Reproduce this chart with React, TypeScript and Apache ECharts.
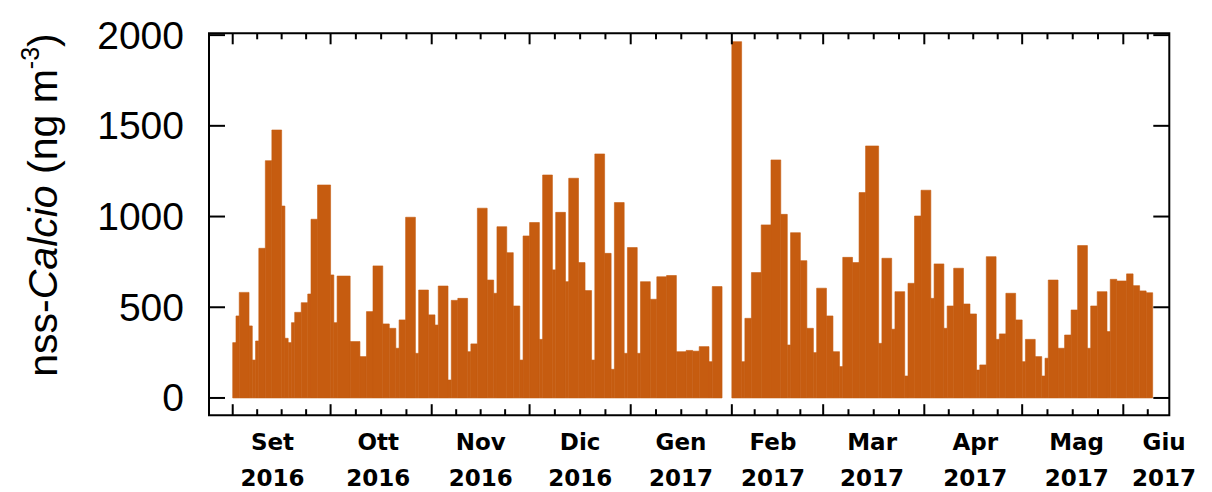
import React, { useEffect, useRef } from "react";
import * as echarts from "echarts";

// Sampling periods, in days since 2016-09-01 (start inclusive, end exclusive)
const startDay = [
  0, 1, 2, 5, 6, 7, 8, 10, 12, 15, 16, 17, 18, 19, 21, 23, 24, 26, 30, 31,
  32, 36, 39, 41, 43, 46, 48, 50, 51, 53, 56, 57, 60, 62, 63, 66, 67, 69, 72, 73,
  75, 78, 80, 81, 84, 86, 88, 89, 91, 94, 95, 98, 99, 102, 103, 106, 108, 110, 111, 114,
  116, 117, 120, 121, 124, 125, 128, 130, 133, 136, 139, 141, 143, 146, 147, 153, 156, 157, 159, 162,
  165, 168, 170, 171, 174, 176, 178, 179, 182, 184, 186, 187, 190, 192, 194, 198, 199, 202, 203, 206,
  207, 209, 211, 214, 215, 218, 219, 221, 224, 226, 228, 229, 231, 234, 235, 237, 240, 242, 243, 246,
  248, 249, 250, 253, 255, 257, 259, 262, 263, 265, 268, 269, 271, 274, 276, 278, 280,
];
const endDay = [
  1, 2, 5, 6, 7, 8, 10, 12, 15, 16, 17, 18, 19, 21, 23, 24, 26, 30, 31, 32,
  36, 39, 41, 43, 46, 48, 50, 51, 53, 56, 57, 60, 62, 63, 66, 67, 69, 72, 73, 75,
  78, 80, 81, 84, 86, 88, 89, 91, 94, 95, 98, 99, 102, 103, 106, 108, 110, 111, 114, 116,
  117, 120, 121, 124, 125, 128, 130, 133, 136, 139, 141, 143, 146, 147, 150, 156, 157, 159, 162, 165,
  168, 170, 171, 174, 176, 178, 179, 182, 184, 186, 187, 190, 192, 194, 198, 199, 202, 203, 206, 207,
  209, 211, 214, 215, 218, 219, 221, 224, 226, 228, 229, 231, 234, 235, 237, 240, 242, 243, 246, 248,
  249, 250, 253, 255, 257, 259, 262, 263, 265, 268, 269, 271, 274, 276, 278, 280, 282,
];
// nss-Ca concentration (ng m^-3) for each sampling period
const nssCa = [
  305, 452, 582, 397, 209, 314, 825, 1308, 1477, 1058, 329, 305, 415, 472, 525, 573, 985, 1174, 678, 415,
  672, 311, 228, 476, 728, 408, 384, 274, 430, 996, 246, 595, 458, 402, 617, 99, 538, 549, 255, 298,
  1046, 650, 577, 944, 801, 507, 209, 893, 967, 323, 1229, 706, 1023, 641, 1211, 746, 592, 209, 1345, 797,
  158, 1077, 246, 829, 246, 641, 544, 668, 675, 255, 262, 258, 283, 200, 614, 1964, 200, 439, 691, 954,
  1312, 1012, 292, 911, 757, 384, 250, 605, 452, 255, 173, 775, 746, 1132, 1389, 301, 770, 379, 586, 121,
  632, 1003, 1145, 549, 739, 384, 507, 715, 518, 463, 154, 182, 779, 323, 353, 577, 430, 200, 323, 228,
  121, 219, 650, 274, 347, 485, 840, 274, 507, 586, 366, 654, 645, 684, 619, 590, 580,
];

// Month boundaries (days since 2016-09-01): Set 2016 ... Giu 2017
const monthStarts = [0, 30, 61, 91, 122, 153, 181, 212, 242, 273];
const monthNames = ["Set", "Ott", "Nov", "Dic", "Gen", "Feb", "Mar", "Apr", "Mag", "Giu"];
const monthYears = ["2016", "2016", "2016", "2016", "2017", "2017", "2017", "2017", "2017", "2017"];
const monthLabelPos = [12.2, 44.6, 76, 106.5, 137.4, 165.6, 196, 227.6, 258.7, 285.5];
const yTicks = [0, 500, 1000, 1500, 2000];

const X_MIN = -7.27;
const X_MAX = 287.1;
const Y_MIN = -95;
const Y_MAX = 2010;
const BAR_COLOR = "#c65c10";

// quarter-month minor ticks between month boundaries
const boundaries = [-31, ...monthStarts, 303];
const minorTicks: number[] = [];
for (let i = 0; i < boundaries.length - 1; i++) {
  const a = boundaries[i];
  const b = boundaries[i + 1];
  for (let k = 1; k < 4; k++) {
    const v = a + ((b - a) * k) / 4;
    if (v > X_MIN && v < X_MAX) minorTicks.push(v);
  }
}

const tickStyle = { stroke: "#000", lineWidth: 2 };

export default function App() {
  const ref = useRef<HTMLDivElement>(null);

  useEffect(() => {
    document.body.style.margin = "0";
    if (!ref.current) return;
    const chart = echarts.init(ref.current, null, { renderer: "svg" });

    const samples = startDay.map((s, i) => [s, endDay[i], nssCa[i]]);
    // x ticks: [day, length in px]
    const xTickData = [
      ...monthStarts.map((v) => [v, 11]),
      ...minorTicks.map((v) => [v, 6]),
    ];
    // y ticks on both sides
    const yTickData = yTicks.map((v) => [X_MIN, v]);

    chart.setOption({
      animation: false,
      grid: {
        left: 209,
        right: 1212 - 1169.3,
        top: 33.3,
        bottom: 492 - 415.2,
        outerBoundsMode: "none",
        containLabel: false,
        show: true,
        borderColor: "#000",
        borderWidth: 2,
        backgroundColor: "transparent",
      },
      xAxis: {
        type: "value",
        min: X_MIN,
        max: X_MAX,
        axisLine: { show: false },
        splitLine: { show: false },
        axisTick: { show: false },
        axisLabel: {
          show: true,
          customValues: monthLabelPos,
          margin: 9,
          color: "#000",
          fontFamily: "DejaVu Sans",
          fontWeight: "bold",
          fontSize: 23,
          lineHeight: 36,
          formatter: (val: number) => {
            let best = 0;
            for (let i = 1; i < monthLabelPos.length; i++) {
              if (Math.abs(monthLabelPos[i] - val) < Math.abs(monthLabelPos[best] - val)) best = i;
            }
            return monthNames[best] + "\n" + monthYears[best];
          },
        },
      },
      yAxis: {
        type: "value",
        min: Y_MIN,
        max: Y_MAX,
        axisLine: { show: false },
        splitLine: { show: false },
        axisTick: { show: false },
        axisLabel: {
          show: true,
          customValues: yTicks,
          margin: 25,
          color: "#000",
          fontFamily: "Liberation Sans",
          fontSize: 39,
          formatter: (v: number) => String(v),
        },
      },
      graphic: [
        {
          type: "text",
          x: 43,
          y: 205,
          rotation: Math.PI / 2,
          style: {
            text: "{a|nss-}{i|Calcio}{a| (ng m}{s|-3}{a|)}",
            align: "center",
            verticalAlign: "middle",
            rich: {
              a: { fontSize: 41, fontFamily: "Liberation Sans", fill: "#000", lineHeight: 52 },
              i: { fontSize: 41, fontFamily: "Liberation Sans", fontStyle: "italic", fill: "#000", lineHeight: 52 },
              s: { fontSize: 25, fontFamily: "Liberation Sans", fill: "#000", verticalAlign: "top", lineHeight: 25 },
            },
          },
        },
      ],
      series: [
        {
          type: "custom",
          data: samples,
          encode: { x: [0, 1], y: 2 },
          renderItem: (params: any, api: any) => {
            const p0 = api.coord([api.value(0), 0]);
            const p1 = api.coord([api.value(1), api.value(2)]);
            return {
              type: "rect",
              shape: { x: p0[0], y: p1[1], width: p1[0] - p0[0], height: p0[1] - p1[1] },
              style: { fill: BAR_COLOR, stroke: BAR_COLOR, lineWidth: 0.6 },
            };
          },
        },
        {
          type: "custom",
          data: xTickData,
          encode: { x: 0 },
          z: 5,
          renderItem: (params: any, api: any) => {
            const cs = params.coordSys;
            const x = api.coord([api.value(0), 0])[0];
            const len = api.value(1);
            const bottom = cs.y + cs.height;
            return {
              type: "group",
              children: [
                { type: "line", shape: { x1: x, y1: bottom, x2: x, y2: bottom - len }, style: tickStyle },
                { type: "line", shape: { x1: x, y1: cs.y, x2: x, y2: cs.y + len }, style: tickStyle },
              ],
            };
          },
        },
        {
          type: "custom",
          data: yTickData,
          encode: { x: 0, y: 1 },
          z: 5,
          renderItem: (params: any, api: any) => {
            const cs = params.coordSys;
            const y = api.coord([X_MIN, api.value(1)])[1];
            const right = cs.x + cs.width;
            return {
              type: "group",
              children: [
                { type: "line", shape: { x1: cs.x, y1: y, x2: cs.x + 16, y2: y }, style: tickStyle },
                { type: "line", shape: { x1: right, y1: y, x2: right - 16, y2: y }, style: tickStyle },
              ],
            };
          },
        },
      ],
    });

    return () => chart.dispose();
  }, []);

  return <div ref={ref} style={{ width: 1212, height: 492 }} />;
}
